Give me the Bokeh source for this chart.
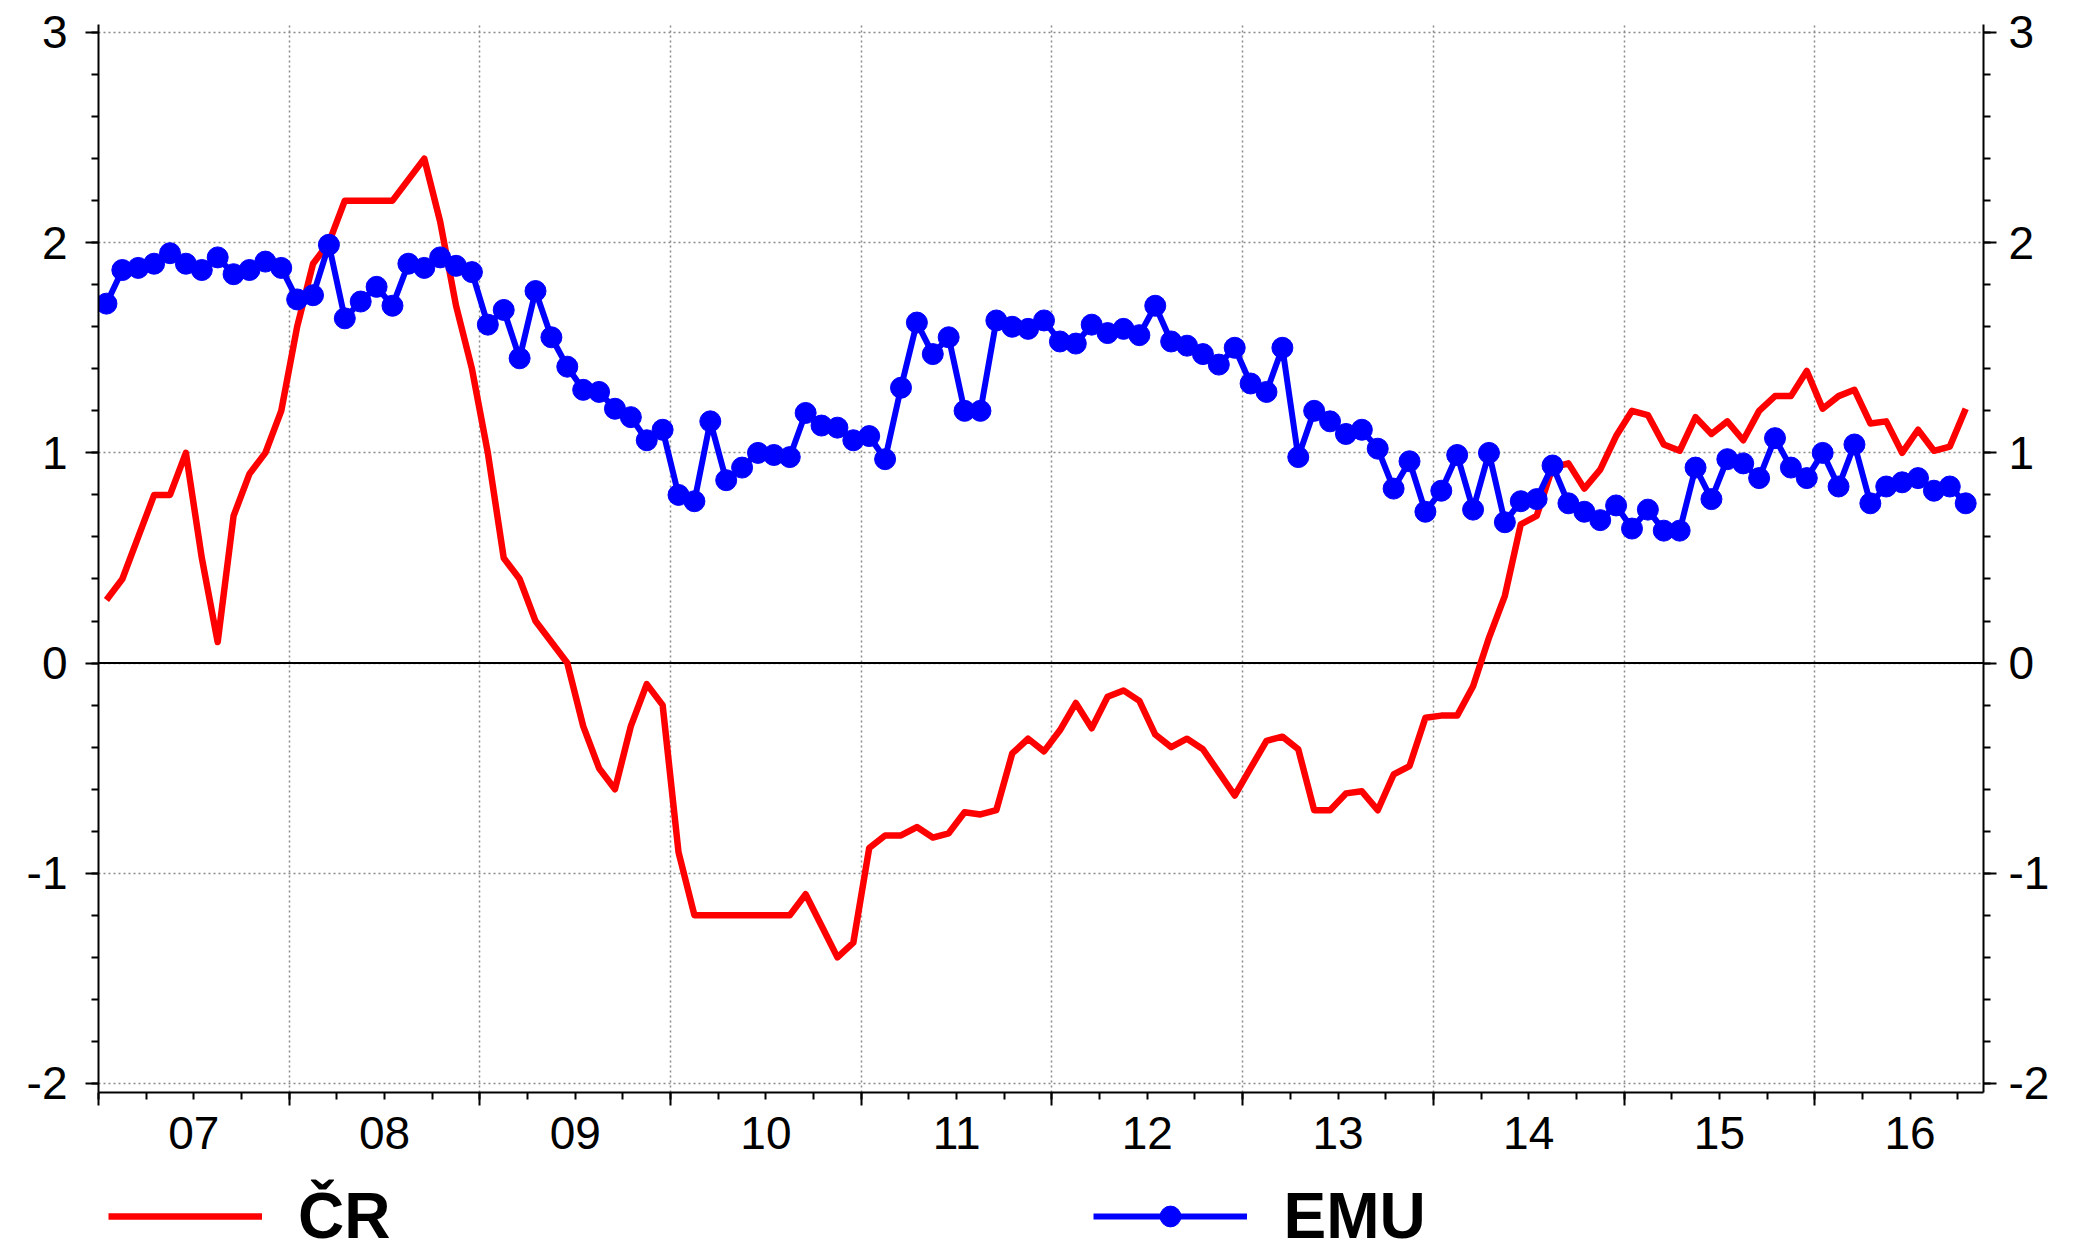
from bokeh.plotting import figure
from bokeh.layouts import column
from bokeh.models import (Range1d, LinearAxis, FixedTicker, Span, Legend,
                          LegendItem, ColumnDataSource)
from bokeh.embed import file_html
from bokeh.resources import INLINE

# ---------------- data ----------------
year_labels = ["07", "08", "09", "10", "11", "12", "13", "14", "15", "16"]
y_ticks = [-2, -1, 0, 1, 2, 3]
y_tick_labels = ["-2", "-1", "0", "1", "2", "3"]
series_names = ["ČR", "EMU"]

# monthly values, Jan 2007 - Oct 2016
cr = [
    0.3, 0.4, 0.6, 0.8, 0.8, 1.0, 0.5, 0.1, 0.7, 0.9, 1.0, 1.2,            # 2007
    1.6, 1.9, 2.0, 2.2, 2.2, 2.2, 2.2, 2.3, 2.4, 2.1, 1.7, 1.4,            # 2008
    1.0, 0.5, 0.4, 0.2, 0.1, 0.0, -0.3, -0.5, -0.6, -0.3, -0.1, -0.2,      # 2009
    -0.9, -1.2, -1.2, -1.2, -1.2, -1.2, -1.2, -1.2, -1.1, -1.25, -1.4, -1.33,  # 2010
    -0.88, -0.82, -0.82, -0.78, -0.83, -0.81, -0.71, -0.72, -0.70, -0.43, -0.36, -0.42,  # 2011
    -0.32, -0.19, -0.31, -0.16, -0.13, -0.18, -0.34, -0.40, -0.36, -0.41, -0.52, -0.63,  # 2012
    -0.50, -0.37, -0.35, -0.41, -0.70, -0.70, -0.62, -0.61, -0.70, -0.53, -0.49, -0.26,  # 2013
    -0.25, -0.25, -0.11, 0.12, 0.32, 0.66, 0.70, 0.93, 0.95, 0.83, 0.92, 1.08,          # 2014
    1.20, 1.18, 1.04, 1.01, 1.17, 1.09, 1.15, 1.06, 1.20, 1.27, 1.27, 1.39,             # 2015
    1.21, 1.27, 1.30, 1.14, 1.15, 1.00, 1.11, 1.01, 1.03, 1.21,                         # 2016
]
emu = [
    1.71, 1.87, 1.88, 1.90, 1.95, 1.90, 1.87, 1.93, 1.85, 1.87, 1.91, 1.88,  # 2007
    1.73, 1.75, 1.99, 1.64, 1.72, 1.79, 1.70, 1.90, 1.88, 1.93, 1.89, 1.86,  # 2008
    1.61, 1.68, 1.45, 1.77, 1.55, 1.41, 1.30, 1.29, 1.21, 1.17, 1.06, 1.11,  # 2009
    0.80, 0.77, 1.15, 0.87, 0.93, 1.00, 0.99, 0.98, 1.19, 1.13, 1.12, 1.06,  # 2010
    1.08, 0.97, 1.31, 1.62, 1.47, 1.55, 1.20, 1.20, 1.63, 1.60, 1.59, 1.63,  # 2011
    1.53, 1.52, 1.61, 1.57, 1.59, 1.56, 1.70, 1.53, 1.51, 1.47, 1.42, 1.50,  # 2012
    1.33, 1.29, 1.50, 0.98, 1.20, 1.15, 1.09, 1.11, 1.02, 0.83, 0.96, 0.72,  # 2013
    0.82, 0.99, 0.73, 1.00, 0.67, 0.77, 0.78, 0.94, 0.76, 0.72, 0.68, 0.75,  # 2014
    0.64, 0.73, 0.63, 0.63, 0.93, 0.78, 0.97, 0.95, 0.88, 1.07, 0.93, 0.88,  # 2015
    1.00, 0.84, 1.04, 0.76, 0.84, 0.86, 0.88, 0.82, 0.84, 0.76,              # 2016
]

# x position: months since Jan 2007, plotted at mid-month
month_index = list(range(len(cr)))
x = [m + 0.5 for m in month_index]
src = ColumnDataSource(dict(x=x, cr=cr, emu=emu))

n_years = len(year_labels)
year_bounds = [12 * k for k in range(n_years)]
year_centers = [12 * k + 6 for k in range(n_years)]
quarter_ticks = [3 * k for k in range(4 * n_years)]
y_minor = [y_ticks[0] + 0.2 * k for k in range(5 * (len(y_ticks) - 1) + 1)]

FONT = "Liberation Sans"
RED = "#FF0000"
BLUE = "#0000FF"
W = 2072
H_MAIN = 1174
H_LEG = 66

p = figure(width=W, height=H_MAIN, output_backend="svg", toolbar_location=None,
           x_range=Range1d(0, 118.62), y_range=Range1d(-2.043, 3.038),
           min_border_left=98, min_border_right=89, min_border_top=24,
           min_border_bottom=82, outline_line_color=None,
           background_fill_color="white", border_fill_color="white")

# grids
p.xgrid.ticker = FixedTicker(ticks=year_bounds)
p.ygrid.ticker = FixedTicker(ticks=y_ticks)
for g in (p.xgrid[0], p.ygrid[0]):
    g.grid_line_color = "#8a8a8a"
    g.grid_line_dash = "2 3"
    g.grid_line_width = 1.5

zero = Span(location=0, dimension="width", line_color="black", line_width=2,
            level="underlay")
p.add_layout(zero)


def style_axis(ax, size="46px"):
    ax.axis_line_color = "black"
    ax.axis_line_width = 2
    ax.major_tick_line_color = "black"
    ax.major_tick_line_width = 2
    ax.minor_tick_line_color = "black"
    ax.minor_tick_line_width = 2
    ax.major_tick_in = 0
    ax.major_tick_out = 13
    ax.minor_tick_in = 0
    ax.minor_tick_out = 7
    ax.major_label_text_font = FONT
    ax.major_label_text_font_size = size
    ax.major_label_text_color = "black"


# left / right axes
yl = p.yaxis[0]
yl.ticker = FixedTicker(ticks=y_ticks, minor_ticks=y_minor)
yl.major_label_overrides = dict(zip(y_ticks, y_tick_labels))
style_axis(yl)
yl.major_label_standoff = 18

yr = LinearAxis(ticker=FixedTicker(ticks=y_ticks, minor_ticks=y_minor),
                major_label_overrides=dict(zip(y_ticks, y_tick_labels)))
style_axis(yr)
yr.major_label_standoff = 12
p.add_layout(yr, "right")

# bottom axis: ticks only
xb = p.xaxis[0]
xb.ticker = FixedTicker(ticks=year_bounds, minor_ticks=quarter_ticks)
xb.major_label_overrides = {b: "" for b in year_bounds}
style_axis(xb)
xb.major_label_standoff = 0

# bottom axis: year labels centred within each year
xl = LinearAxis(ticker=FixedTicker(ticks=year_centers, minor_ticks=[]),
                major_label_overrides=dict(zip(year_centers, year_labels)))
style_axis(xl)
xl.axis_line_color = None
xl.major_tick_line_color = None
xl.minor_tick_line_color = None
xl.major_tick_out = 0
xl.minor_tick_out = 0
xl.major_label_standoff = 11
p.add_layout(xl, "below")

# data
line_kw_cr = dict(line_color=RED, line_width=6.5, line_join="round")
line_kw_emu = dict(line_color=BLUE, line_width=6, line_join="round")
pts_kw_emu = dict(marker="circle", size=21, fill_color=BLUE, line_color=BLUE)

p.line("x", "cr", source=src, **line_kw_cr)
p.line("x", "emu", source=src, **line_kw_emu)
p.scatter("x", "emu", source=src, **pts_kw_emu)

# ---------------- legend strip below the chart ----------------
lg = figure(width=W, height=H_LEG, output_backend="svg", toolbar_location=None,
            x_range=Range1d(0, 1), y_range=Range1d(10, 11),
            x_axis_location=None, y_axis_location=None,
            min_border_left=0, min_border_right=0, min_border_top=0,
            min_border_bottom=0, outline_line_color=None,
            background_fill_color="white", border_fill_color="white")
lg.grid.visible = False
# the same series (outside this strip's visible range) provide the legend swatches
l_cr = lg.line("x", "cr", source=src, **line_kw_cr)
l_emu = lg.line("x", "emu", source=src, **line_kw_emu)
l_pts = lg.scatter("x", "emu", source=src, **pts_kw_emu)

legend = Legend(items=[LegendItem(label=series_names[0], renderers=[l_cr]),
                       LegendItem(label=series_names[1], renderers=[l_emu, l_pts])],
                orientation="horizontal", location=(10, -13),
                glyph_width=154, glyph_height=52, label_height=74,
                label_standoff=36, spacing=703, padding=0, margin=0,
                border_line_color=None, background_fill_alpha=0,
                label_text_font=FONT, label_text_font_style="bold",
                label_text_font_size="64px", label_text_color="black")
lg.add_layout(legend, "center")

layout = column(p, lg, spacing=0)
open("out.html", "w").write(file_html(layout, INLINE))
